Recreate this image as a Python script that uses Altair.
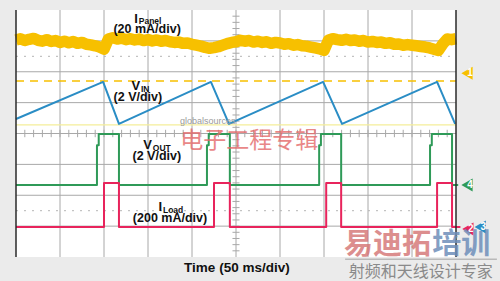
import altair as alt
import pandas as pd

# Screen: 10 horizontal divisions (50 ms/div), 8 vertical divisions.
# All trace values are in screen divisions (0 = bottom edge, 8 = top edge).

# Channel 1: panel current (20 mA/div), sampled every 0.1 div
panel_t = [i / 10 for i in range(101)]
panel_v = [7.03, 7.07, 7.01, 7.05, 7.08, 7.02, 6.99, 7.04, 6.98, 7.01,
           6.95, 6.99, 6.94, 6.98, 6.92, 6.95, 6.89, 6.87, 6.84, 6.80,
           6.73, 7.06, 7.10, 7.06, 7.09, 7.04, 7.07, 7.03, 7.06, 7.01,
           7.04, 7.00, 7.03, 6.99, 7.01, 6.97, 6.95, 6.96, 6.92, 6.93,
           6.89, 6.86, 6.83, 6.79, 6.76, 6.78, 6.81, 6.86, 6.91, 6.95,
           6.97, 7.02, 6.99, 7.01, 6.96, 6.99, 6.95, 6.97, 6.92, 6.95,
           6.93, 6.89, 6.91, 6.86, 6.88, 6.84, 6.83, 6.80, 6.77, 6.74,
           6.69, 7.02, 7.07, 7.04, 7.02, 7.05, 7.01, 7.03, 6.99, 7.01,
           6.96, 6.98, 6.95, 6.96, 6.92, 6.94, 6.89, 6.90, 6.86, 6.88,
           6.86, 6.84, 6.82, 6.80, 6.77, 6.73, 6.69, 6.90, 7.06, 7.04,
           7.07]

# Channel 2 reference levels
vin_ref_dash = 5.70
vin_ref_low = 4.28

# Channel 3: input voltage (2 V/div), sawtooth corners
vin_t = [0.0, 1.98, 2.34, 4.43, 4.84, 6.98, 7.41, 9.57, 9.98]
vin_v = [4.47, 5.67, 4.31, 5.67, 4.31, 5.67, 4.31, 5.67, 4.31]

# Channel 4: output voltage (2 V/div)
vout_t = [0.0, 1.84, 1.84, 1.88, 1.88, 2.34, 2.34,
          4.34, 4.34, 4.38, 4.38, 4.86, 4.86,
          6.89, 6.89, 6.93, 6.93, 7.39, 7.39,
          9.41, 9.41, 9.45, 9.45, 9.91, 9.91, 10.05]
vout_v = [2.33, 2.33, 3.62, 3.62, 3.98, 3.98, 2.33,
          2.33, 3.62, 3.62, 3.98, 3.98, 2.33,
          2.33, 3.62, 3.62, 3.98, 3.98, 2.33,
          2.33, 3.62, 3.62, 3.98, 3.98, 2.33, 2.33]

# Channel 2: load current (200 mA/div)
iload_t = [0.0, 2.00, 2.00, 2.34, 2.34, 4.50, 4.50, 4.86, 4.86,
           7.05, 7.05, 7.39, 7.39, 9.57, 9.57, 9.91, 9.91, 10.1]
iload_v = [0.97, 0.97, 2.40, 2.40, 0.97, 0.97, 2.40, 2.40, 0.97,
           0.97, 2.40, 2.40, 0.97, 0.97, 2.40, 2.40, 0.97, 0.97]

YELLOW = "#f7c000"
BLUE = "#2a8dc5"
GREEN = "#2f9a58"
RED = "#e8245c"
GRID = "#a8a8a8"

xs = alt.Scale(domain=[0, 10], nice=False, zero=False)
ys = alt.Scale(domain=[0, 8], nice=False, zero=False)
X = alt.X("t:Q", scale=xs, axis=None)
Y = alt.Y("v:Q", scale=ys, axis=None)

# ---- graticule ----
grid_v = pd.DataFrame({"t": [1, 2, 3, 4, 6, 7, 8, 9], "v": 0.0, "v2": 8.0})
grid_h = pd.DataFrame({"v": [1, 2, 3, 5, 6, 7], "t": 0.0, "t2": 10.0})
center = pd.DataFrame({"t": [0.0, 5.0], "t2": [10.0, 5.0], "v": [4.0, 0.0], "v2": [4.0, 8.0]})
ticks_h = pd.DataFrame({"t": [k * 0.2 for k in range(1, 50)]})
ticks_h["t2"] = ticks_h["t"]
ticks_h["v"] = 3.88
ticks_h["v2"] = 4.12
ticks_v = pd.DataFrame({"v": [k * 0.2 for k in range(1, 40)]})
ticks_v["v2"] = ticks_v["v"]
ticks_v["t"] = 4.92
ticks_v["t2"] = 5.08
dots = pd.DataFrame({"v": [6.5, 1.5], "t": 0.0, "t2": 10.0})
border = pd.DataFrame({"t": [0.0, 10.0], "v": 0.0, "v2": 8.0})

def rules(df, color, width=1.0, dash=None, opacity=1.0):
    kw = dict(color=color, strokeWidth=width, opacity=opacity)
    if dash is not None:
        kw["strokeDash"] = dash
    enc = dict(x=X, y=Y)
    if "t2" in df.columns:
        enc["x2"] = "t2:Q"
    if "v2" in df.columns:
        enc["y2"] = "v2:Q"
    return alt.Chart(df).mark_rule(**kw).encode(**enc)

graticule = [
    rules(grid_v, GRID),
    rules(grid_h, GRID),
    rules(center, GRID),
    rules(ticks_h, GRID),
    rules(ticks_v, GRID),
    rules(dots, "#b5b5b5", 1, [2, 6]),
]

# ---- reference lines ----
ref_lines = pd.DataFrame({"t": [0.0], "t2": [10.0], "v": [vin_ref_dash]})
ref_low = pd.DataFrame({"t": [0.0], "t2": [10.0], "v": [vin_ref_low]})
refs = [
    rules(ref_low, "#f4ee9a", 1.2),
    rules(ref_lines, YELLOW, 1.5, [8, 6]),
]

# ---- traces ----
def trace(t, v, color, width):
    df = pd.DataFrame({"t": t, "v": v, "i": range(len(t))})
    return alt.Chart(df).mark_line(color=color, strokeWidth=width, strokeJoin="round").encode(
        x=X, y=Y, order="i:Q")

traces = [
    trace(panel_t, panel_v, YELLOW, 11.5),
    trace(vin_t, vin_v, BLUE, 2),
    trace(vout_t, vout_v, GREEN, 2),
    trace(iload_t, iload_v, RED, 2),
]

frame = rules(border, "#2a2a2a", 1.5)

# ---- channel markers at the right edge ----
markers = pd.DataFrame({
    "t": [10.25, 10.25, 10.27, 10.55],
    "v": [5.95, 2.33, 0.91, 0.97],
    "label": ["1", "4", "2", "3"],
    "color": [YELLOW, GREEN, RED, BLUE],
})
marker_pts = alt.Chart(markers).mark_point(shape="triangle-left", filled=True, size=170, opacity=1).encode(
    x=X, y=Y, color=alt.Color("color:N", scale=None))
marker_txt = alt.Chart(markers).mark_text(font="Liberation Sans", fontWeight="bold", fontSize=10,
                                          color="white", dx=3).encode(x=X, y=Y, text="label:N")

# ---- channel labels ----
def label(df, size, align="center", color="#111111", weight="bold", font="Liberation Sans", opacity=1.0):
    return alt.Chart(df).mark_text(font=font, fontSize=size, fontWeight=weight, align=align,
                                   baseline="middle", color=color, opacity=opacity).encode(
        x=X, y=Y, text="s:N")

main_letters = pd.DataFrame({"t": [2.77, 2.82, 3.09, 3.32], "v": [7.72, 5.54, 3.63, 1.62],
                             "s": ["I", "V", "V", "I"]})
subs = pd.DataFrame({"t": [2.79, 2.84, 3.11, 3.34], "v": [7.64, 5.45, 3.53, 1.52],
                     "s": ["Panel", "IN", "OUT", "Load"]})
scales_txt = pd.DataFrame({"t": [2.98, 2.77, 3.20, 3.50], "v": [7.38, 5.18, 3.27, 1.26],
                           "s": ["(20 mA/div)", "(2 V/div)", "(2 V/div)", "(200 mA/div)"]})

labels = [
    label(main_letters, 13, align="right"),
    label(subs, 8.5, align="left"),
    label(scales_txt, 12.5),
]

time_txt = pd.DataFrame({"t": [5.02], "v": [-0.36], "s": ["Time (50 ms/div)"]})
time_lbl = label(time_txt, 13.5)

# ---- publisher marks ----
gs = pd.DataFrame({"t": [4.36], "v": [4.40], "s": ["globalsources"]})
cn1 = pd.DataFrame({"t": [5.30], "v": [3.76], "s": ["电子工程专辑"]})
brand_a = pd.DataFrame({"t": [9.43], "v": [0.39], "s": ["易迪拓"]})
brand_b = pd.DataFrame({"t": [9.46], "v": [0.39], "s": ["培训"]})
tagline = pd.DataFrame({"t": [9.20], "v": [-0.47], "s": ["射频和天线设计专家"]})
tag_rule = pd.DataFrame({"t": [7.48], "t2": [10.93], "v": [-0.07]})

brand = [
    label(gs, 9, color="#9a9a9a", weight="normal"),
    label(cn1, 23, color="#e46a6a", weight="normal", font="Noto Sans CJK SC", opacity=0.8),
    label(brand_a, 29, align="right", color="#d47272", weight="bold", font="Noto Sans CJK SC", opacity=0.8),
    label(brand_b, 29, align="left", color="#6f8fba", weight="bold", font="Noto Sans CJK SC", opacity=0.85),
    label(tagline, 16, color="#8a8a8a", weight="normal", font="Noto Sans CJK SC"),
    rules(tag_rule, "#a0a0a0", 1),
]

chart = alt.layer(
    *graticule, *refs, *traces, frame, marker_pts, marker_txt, *labels, time_lbl, *brand
).properties(
    width=440, height=247,
    autosize="none",
    padding={"left": 16, "top": 10, "right": 44, "bottom": 24},
    background="#ebebeb",
).configure_view(fill="white", stroke=None)

chart.save("out.html", embed_options={"renderer": "svg", "actions": False})
